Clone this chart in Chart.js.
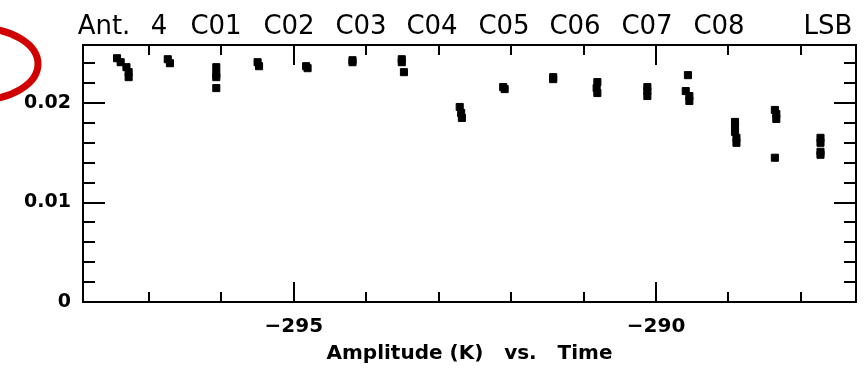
<!DOCTYPE html>
<html>
<head>
<meta charset="utf-8">
<script src="https://cdn.jsdelivr.net/npm/chart.js@4"></script>
<style>
  html, body { margin: 0; padding: 0; background: #fff; }
  #wrap { width: 868px; height: 368px; }
</style>
</head>
<body>
<div id="wrap"><canvas id="chart"></canvas></div>
<script>
// Amplitude (K) vs. Time, antenna 4, channels C01..C08, LSB
const timeValues = [
    -297.44, -297.39, -297.31, -297.28, -297.28,
    -296.74, -296.71,
    -296.07, -296.07, -296.07, -296.07,
    -295.50, -295.48,
    -294.83, -294.81,
    -294.19, -294.19,
    -293.51, -293.51, -293.48,
    -292.71, -292.69, -292.68,
    -292.11, -292.09,
    -291.42, -291.42,
    -290.81, -290.82, -290.81,
    -290.12, -290.12, -290.12,
    -289.56, -289.59, -289.54, -289.54,
    -288.91, -288.91, -288.91, -288.89, -288.89,
    -288.36, -288.34, -288.34, -288.36,
    -287.73, -287.73, -287.73, -287.73
];
const amplitudeValues = [
    0.0245, 0.0241, 0.0236, 0.0231, 0.0226,
    0.0244, 0.0240,
    0.0236, 0.0229, 0.0226, 0.0215,
    0.0241, 0.0237,
    0.0237, 0.0235,
    0.0243, 0.0241,
    0.0244, 0.0241, 0.0231,
    0.0196, 0.0190, 0.0185,
    0.0216, 0.0214,
    0.0226, 0.0224,
    0.0221, 0.0215, 0.0210,
    0.0216, 0.0212, 0.0207,
    0.0228, 0.0212, 0.0207, 0.0202,
    0.0181, 0.0176, 0.0171, 0.0165, 0.0160,
    0.0193, 0.0189, 0.0184, 0.0145,
    0.0165, 0.0160, 0.0151, 0.0148
];
const headerWords = ['Ant.', '4', 'C01', 'C02', 'C03', 'C04', 'C05', 'C06', 'C07', 'C08', 'LSB'];
const xTickLabels = [-295, -290];
const yTickLabels = [0, 0.01, 0.02];
const xRange = [-297.91, -287.24];
const yRange = [0, 0.02583];
const xMinorStep = 1;
const yMinorStep = 0.002;

const points = timeValues.map((t, i) => ({ x: t, y: amplitudeValues[i] }));

// header word centres (px), frame, inward ticks and the red pen mark
const headerX = [104, 159, 216, 289, 361, 432, 504, 575, 647, 719, 828];

const framePlugin = {
    id: 'frame',
    afterDraw(chart) {
        const ctx = chart.ctx;
        const a = chart.chartArea;
        const xs = chart.scales.x;
        const ys = chart.scales.y;
        ctx.save();
        ctx.strokeStyle = '#000';
        ctx.lineWidth = 2;
        ctx.strokeRect(a.left, a.top, a.right - a.left, a.bottom - a.top);

        ctx.beginPath();
        for (let v = Math.ceil(xs.min); v <= xs.max; v += xMinorStep) {
            const px = Math.round(xs.getPixelForValue(v));
            const len = (v % 5 === 0) ? 20 : 10;
            ctx.moveTo(px, a.bottom); ctx.lineTo(px, a.bottom - len);
            ctx.moveTo(px, a.top); ctx.lineTo(px, a.top + len);
        }
        for (let k = 0; k * yMinorStep <= ys.max; k++) {
            const py = Math.round(ys.getPixelForValue(k * yMinorStep));
            const len = (k % 5 === 0) ? 22 : 12;
            ctx.moveTo(a.left, py); ctx.lineTo(a.left + len, py);
            ctx.moveTo(a.right, py); ctx.lineTo(a.right - len, py);
        }
        ctx.stroke();

        ctx.fillStyle = '#000';
        ctx.font = '26px "DejaVu Sans"';
        ctx.textAlign = 'center';
        ctx.textBaseline = 'alphabetic';
        headerWords.forEach((w, i) => ctx.fillText(w, headerX[i], 34));

        ctx.strokeStyle = '#d00000';
        ctx.lineWidth = 7;
        ctx.beginPath();
        ctx.ellipse(-22, 64, 60, 36, 0, -Math.PI / 2, Math.PI / 2);
        ctx.stroke();
        ctx.restore();
    }
};

new Chart(document.getElementById('chart'), {
    type: 'scatter',
    data: {
        datasets: [{
            data: points,
            pointStyle: 'rect',
            pointRadius: 5,
            pointBorderWidth: 1,
            backgroundColor: '#000',
            borderColor: '#000'
        }]
    },
    options: {
        responsive: true,
        maintainAspectRatio: false,
        animation: false,
        layout: { padding: { top: 45, right: 12, left: 0, bottom: 0 } },
        plugins: { legend: { display: false }, tooltip: { enabled: false } },
        scales: {
            x: {
                type: 'linear',
                min: xRange[0],
                max: xRange[1],
                afterBuildTicks: s => { s.ticks = xTickLabels.map(v => ({ value: v })); },
                afterFit: s => { s.height = 66; },
                grid: { display: false, drawTicks: false },
                border: { display: false },
                ticks: {
                    padding: 13,
                    color: '#000',
                    font: { family: 'DejaVu Sans', size: 20, weight: 'bold' },
                    callback: v => '\u2212' + Math.abs(v)
                },
                title: {
                    display: true,
                    text: 'Amplitude (K)   vs.   Time',
                    color: '#000',
                    font: { family: 'DejaVu Sans', size: 20, weight: 'bold' },
                    padding: { top: 0, bottom: 2 }
                }
            },
            y: {
                min: yRange[0],
                max: yRange[1],
                afterBuildTicks: s => { s.ticks = yTickLabels.map(v => ({ value: v })); },
                afterFit: s => { s.width = 83; },
                grid: { display: false, drawTicks: false },
                border: { display: false },
                ticks: {
                    padding: 12,
                    color: '#000',
                    font: { family: 'DejaVu Sans', size: 19, weight: 'bold' },
                    callback: v => v === 0 ? '0' : v.toFixed(2)
                }
            }
        }
    },
    plugins: [framePlugin]
});
</script>
</body>
</html>
